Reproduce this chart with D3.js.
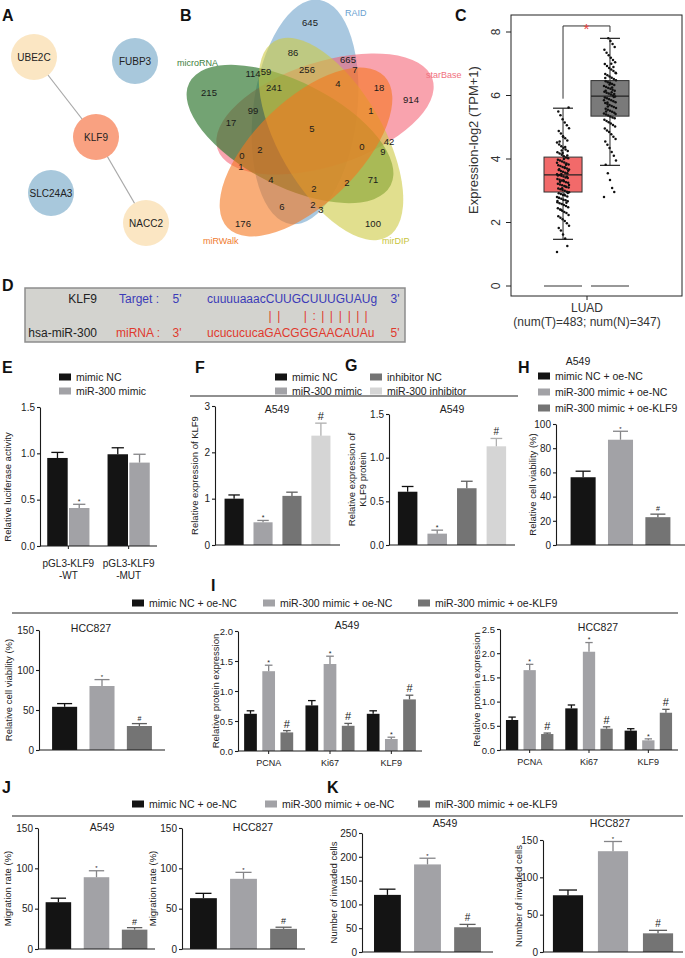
<!DOCTYPE html>
<html lang="en">
<head>
<meta charset="utf-8">
<title>KLF9 / miR-300 figure</title>
<script src="https://cdn.jsdelivr.net/npm/d3@7/dist/d3.min.js"></script>
<style>
  body { margin: 0; background: #fff; }
</style>
</head>
<body>
<svg id="fig" width="685" height="958"></svg>
<script>
// ---------- data ----------
var ppiNodes = ["UBE2C", "FUBP3", "KLF9", "SLC24A3", "NACC2"];
var ppiKind = ["partner", "single", "hub", "single", "partner"];
var ppiLinks = [["UBE2C", "KLF9"], ["KLF9", "NACC2"]];

var vennSets = ["RAID", "starBase", "microRNA", "mirDIP", "miRWalk"];
var vennCounts = [645, 86, 665, 7, 114, 59, 256, 4, 18, 914, 215, 241, 99, 1, 17, 5,
                  42, 0, 9, 2, 0, 1, 4, 71, 2, 2, 6, 2, 3, 176, 100];

var tcgaGroups = ["Tumor", "Normal"];
// whisker low, q1, median, q3, whisker high
var tumorStats = [1.47, 2.96, 3.50, 4.06, 5.60];
var normalStats = [3.80, 5.35, 5.98, 6.47, 7.80];
var tumorPts = [1.07, 1.26, 1.50, 1.62, 1.75, 1.83, 1.90, 1.98, 2.05, 2.10, 2.15, 2.20, 2.24, 2.30,
  2.33, 2.37, 2.41, 2.45, 2.48, 2.52, 2.55, 2.58, 2.61, 2.64, 2.67, 2.70, 2.72, 2.75, 2.77, 2.80,
  2.82, 2.85, 2.87, 2.90, 2.92, 2.95, 2.97, 3.00, 3.02, 3.05, 3.07, 3.10, 3.12, 3.15, 3.17, 3.20,
  3.22, 3.25, 3.27, 3.30, 3.32, 3.35, 3.37, 3.40, 3.42, 3.45, 3.47, 3.50, 3.52, 3.55, 3.57, 3.60,
  3.62, 3.65, 3.67, 3.70, 3.72, 3.75, 3.78, 3.80, 3.83, 3.86, 3.89, 3.92, 3.95, 3.98, 4.02, 4.05,
  4.09, 4.13, 4.17, 4.21, 4.25, 4.30, 4.35, 4.40, 4.46, 4.52, 4.58, 4.65, 4.72, 4.80, 4.88, 4.97,
  5.06, 5.15, 5.25, 5.38, 5.50, 5.62, 2.62, 2.88, 3.08, 3.28, 3.48, 3.63, 3.82, 4.00, 4.27, 4.55,
  2.68, 2.93, 3.13, 3.33, 3.53, 3.68, 3.88, 4.11, 4.38, 4.70, 2.40, 2.78, 3.18, 3.44, 3.74, 4.19];
var normalPts = [2.80, 2.96, 3.09, 3.34, 3.55, 3.82, 3.95, 4.10, 4.22, 4.35, 4.45, 4.55, 4.63, 4.70,
  4.78, 4.85, 4.90, 4.96, 5.02, 5.07, 5.12, 5.16, 5.20, 5.24, 5.28, 5.31, 5.34, 5.37, 5.40, 5.43,
  5.46, 5.49, 5.52, 5.55, 5.58, 5.61, 5.64, 5.67, 5.70, 5.73, 5.76, 5.79, 5.82, 5.85, 5.88, 5.91,
  5.94, 5.97, 6.00, 6.03, 6.06, 6.09, 6.12, 6.15, 6.18, 6.21, 6.24, 6.27, 6.30, 6.33, 6.36, 6.39,
  6.42, 6.45, 6.48, 6.52, 6.56, 6.60, 6.64, 6.68, 6.72, 6.77, 6.82, 6.87, 6.93, 6.99, 7.05, 7.12,
  7.19, 7.27, 7.35, 7.44, 7.53, 7.62, 7.72, 7.80, 5.50, 5.85, 6.05, 6.25, 6.40, 5.65, 6.15, 6.70,
  5.95, 6.10, 6.35, 5.78, 6.55, 5.42, 6.90, 7.00];
var tcgaTicks = [0, 2, 4, 6, 8];

var seqTarget = "cuuuuaaacCUUGCUUUGUAUg";
var seqMirna = "ucucucucaGACGGGAACAUAu";
var seqPairing = "         ||  |:|||||| ";

var lucCats = ["pGL3-KLF9\n-WT", "pGL3-KLF9\n-MUT"];
var lucNC = [0.95, 0.99], lucNCErr = [0.06, 0.07];
var lucMimic = [0.41, 0.90], lucMimicErr = [0.04, 0.09];

var klf9Groups = ["mimic NC", "miR-300 mimic", "inhibitor NC", "miR-300 inhibitor"];
var klf9Mrna = [1.00, 0.49, 1.06, 2.36], klf9MrnaErr = [0.08, 0.04, 0.08, 0.27];
var klf9Prot = [0.61, 0.13, 0.65, 1.13], klf9ProtErr = [0.06, 0.04, 0.08, 0.09];
var klf9Marks = ["", "*", "", "#"];

var oeGroups = ["mimic NC + oe-NC", "miR-300 mimic + oe-NC", "miR-300 mimic + oe-KLF9"];
var oeMarks = ["", "*", "#"];
var viabA549 = [56, 87, 23], viabA549Err = [5, 7, 2.5];
var viabHCC = [54, 80, 30], viabHCCErr = [4, 8, 3];

var proteins = ["PCNA", "Ki67", "KLF9"];
var protA549 = [[0.62, 1.33, 0.31], [0.76, 1.45, 0.42], [0.62, 0.20, 0.86]];
var protA549Err = [[0.05, 0.10, 0.03], [0.08, 0.13, 0.04], [0.05, 0.03, 0.07]];
var protHCC = [[0.62, 1.65, 0.33], [0.86, 2.03, 0.44], [0.40, 0.20, 0.77]];
var protHCCErr = [[0.06, 0.12, 0.02], [0.07, 0.19, 0.04], [0.04, 0.03, 0.07]];

var migA549 = [58, 89, 24], migA549Err = [5, 8, 2.5];
var migHCC = [63, 87, 25], migHCCErr = [6, 8, 2];
var invA549 = [120, 184, 52], invA549Err = [12, 13, 6];
var invHCC = [76, 135, 25], invHCCErr = [7, 13, 4];

// ---------- style ----------
var FONT = '"Liberation Sans", Arial, Helvetica, sans-serif';
var BLACK = "#141414", GRAY = "#a2a2a6", DARK = "#747474", LIGHT = "#d5d5d5";
var svg = d3.select("#fig");

function txt(g, x, y, s, size, o) {
  o = o || {};
  var t = g.append("text").attr("x", x).attr("y", y).text(s)
    .attr("font-size", size).attr("font-family", FONT)
    .attr("fill", o.fill || "#222")
    .attr("text-anchor", o.anchor || "start")
    .attr("dominant-baseline", o.baseline || "central");
  if (o.weight) t.attr("font-weight", o.weight);
  if (o.rotate) t.attr("transform", "rotate(" + o.rotate + "," + x + "," + y + ")");
  return t;
}

// panel letters
[["A", 2, 15], ["B", 180, 15], ["C", 455, 15], ["D", 2, 285], ["E", 2, 367], ["F", 195, 367],
 ["G", 345, 365], ["H", 518, 367], ["I", 211, 585], ["J", 2, 787], ["K", 327, 787]]
  .forEach(function(l) { txt(svg, l[1], l[2], l[0], 16, {weight: "bold", fill: "#111"}); });

// ---------- A: network ----------
var ppiPos = {UBE2C: [34, 57], FUBP3: [135, 61], KLF9: [96, 137], SLC24A3: [51, 193], NACC2: [146, 223]};
var ppiColor = d3.scaleOrdinal().domain(["partner", "single", "hub"]).range(["#fbe6c3", "#a8c8dc", "#f9a181"]);
var gA = svg.append("g");
ppiLinks.forEach(function(l) {
  gA.append("line").attr("x1", ppiPos[l[0]][0]).attr("y1", ppiPos[l[0]][1])
    .attr("x2", ppiPos[l[1]][0]).attr("y2", ppiPos[l[1]][1])
    .attr("stroke", "#a8a8a8").attr("stroke-width", 1.2);
});
ppiNodes.forEach(function(n, i) {
  gA.append("circle").attr("cx", ppiPos[n][0]).attr("cy", ppiPos[n][1]).attr("r", 23)
    .attr("fill", ppiColor(ppiKind[i]));
  txt(gA, ppiPos[n][0], ppiPos[n][1], n, 10, {anchor: "middle", fill: "#222"});
});

// ---------- B: venn ----------
var vennShape = {
  RAID: [305, 112, 113, 52, -83], starBase: [325, 114, 113, 52, -18],
  microRNA: [290, 134, 113, 52, 27], mirDIP: [331, 139, 113, 52, 60], miRWalk: [306, 152, 109, 52, -44]
};
var vennFill = {RAID: ["#629bc7", 0.55], starBase: ["#f4586c", 0.55], microRNA: ["#307730", 0.68],
  mirDIP: ["#cdc943", 0.6], miRWalk: ["#f5761e", 0.6]};
var vennText = {RAID: ["#6a9fd0", 345, 13], starBase: ["#f0707e", 426, 75], microRNA: ["#3d7e3d", 177, 63],
  mirDIP: ["#c8c43a", 382, 241], miRWalk: ["#f07b2d", 203, 241]};
var vennLabelPos = [[310, 22], [293, 52], [348, 59], [355, 69], [253, 73], [266, 71], [307, 69], [338, 83],
  [379, 87], [411, 99], [209, 92], [274, 87], [253, 110], [371, 110], [231, 122], [312, 128], [389, 141],
  [362, 146], [383, 151], [260, 149], [242, 155], [241, 166], [271, 179], [373, 179], [314, 188],
  [347, 182], [282, 206], [313, 204], [321, 209], [243, 223], [373, 223]];
var gB = svg.append("g");
vennSets.forEach(function(s) {
  var e = vennShape[s];
  gB.append("ellipse").attr("cx", e[0]).attr("cy", e[1]).attr("rx", e[2]).attr("ry", e[3])
    .attr("transform", "rotate(" + e[4] + "," + e[0] + "," + e[1] + ")")
    .attr("fill", vennFill[s][0]).attr("fill-opacity", vennFill[s][1]);
});
vennSets.forEach(function(s) {
  txt(gB, vennText[s][1], vennText[s][2], s, 9, {fill: vennText[s][0]});
});
vennCounts.forEach(function(c, i) {
  txt(gB, vennLabelPos[i][0], vennLabelPos[i][1], c, 9.5, {anchor: "middle", fill: "#1a1a1a"});
});

// ---------- C: box plot ----------
var gC = svg.append("g");
var yC = d3.scaleLinear().domain([0, 8]).range([286, 32]);
var xC = d3.scaleBand().domain(tcgaGroups).range([544, 629]).paddingInner(0.19);
gC.append("rect").attr("x", 511).attr("y", 15).attr("width", 171).attr("height", 281)
  .attr("fill", "none").attr("stroke", "#222").attr("stroke-width", 1);
var axC = gC.append("g").attr("transform", "translate(511,0)")
  .call(d3.axisLeft(yC).tickValues(tcgaTicks).tickSize(5).tickSizeOuter(0).tickPadding(3));
axC.select(".domain").remove();
axC.selectAll(".tick").attr("transform", "translate(0,0)");
axC.selectAll(".tick line").attr("stroke", "#222").each(function(d) {
  d3.select(this).attr("y1", yC(d)).attr("y2", yC(d)).attr("x1", 0).attr("x2", -5);
});
axC.selectAll(".tick text").attr("font-family", FONT).attr("font-size", 12).attr("fill", "#333")
  .attr("text-anchor", "middle").attr("x", 0).attr("y", 0).attr("dy", "0.35em")
  .each(function(d) { d3.select(this).attr("transform", "translate(-15," + yC(d) + ") rotate(-90)"); });
txt(gC, 473, 140, "Expression-log2 (TPM+1)", 13, {anchor: "middle", rotate: -90, fill: "#333"});
gC.append("line").attr("x1", 587).attr("x2", 587).attr("y1", 296).attr("y2", 300).attr("stroke", "#222");
txt(gC, 587, 308, "LUAD", 12, {anchor: "middle", fill: "#333"});
txt(gC, 587, 322, "(num(T)=483; num(N)=347)", 12, {anchor: "middle", fill: "#333"});

[[tumorStats, tumorPts, "#f26a6a"], [normalStats, normalPts, "#7a7a7a"]].forEach(function(grp, gi) {
  var st = grp[0], bx = xC(tcgaGroups[gi]), bw = xC.bandwidth(), cx = bx + bw / 2;
  gC.append("line").attr("x1", bx).attr("x2", bx + bw).attr("y1", yC(0)).attr("y2", yC(0))
    .attr("stroke", "#333").attr("stroke-width", 1.2);
  gC.append("line").attr("x1", cx).attr("x2", cx).attr("y1", yC(st[0])).attr("y2", yC(st[4]))
    .attr("stroke", "#222");
  [st[0], st[4]].forEach(function(v) {
    gC.append("line").attr("x1", cx - 10).attr("x2", cx + 10).attr("y1", yC(v)).attr("y2", yC(v))
      .attr("stroke", "#222").attr("stroke-width", 1.2);
  });
  gC.append("rect").attr("x", bx).attr("y", yC(st[3])).attr("width", bw)
    .attr("height", yC(st[1]) - yC(st[3])).attr("fill", grp[2]).attr("stroke", "#333");
  gC.append("line").attr("x1", bx).attr("x2", bx + bw).attr("y1", yC(st[2])).attr("y2", yC(st[2]))
    .attr("stroke", "#222").attr("stroke-width", 1.2);
  grp[1].forEach(function(v, i) {
    var jit = (((i * 53) % 29) / 28 - 0.5) * 12;
    gC.append("circle").attr("cx", cx + jit).attr("cy", yC(v)).attr("r", 1.25).attr("fill", "#111");
  });
});
// significance bracket
var cT = xC("Tumor") + xC.bandwidth() / 2, cN = xC("Normal") + xC.bandwidth() / 2;
gC.append("path").attr("d", "M" + cT + "," + yC(tumorStats[4] + 0.3) + "V" + yC(8.19) + "H" + cN + "V" + yC(normalStats[4] + 0.2))
  .attr("fill", "none").attr("stroke", "#333").attr("stroke-width", 1);
txt(gC, (cT + cN) / 2, yC(8.12), "*", 15, {anchor: "middle", fill: "#e8403c"});

// ---------- D: binding site ----------
var gD = svg.append("g");
gD.append("rect").attr("x", 25).attr("y", 288).attr("width", 380).attr("height", 54)
  .attr("fill", "#d3d3cf").attr("stroke", "#8d8d8d").attr("stroke-width", 1.5);
var BLUE = "#3b3bb8", RED = "#e03a2e";
txt(gD, 97, 299, "KLF9", 12, {anchor: "end"});
txt(gD, 119, 299, "Target :", 12, {fill: BLUE});
txt(gD, 177, 299, "5'", 12, {fill: BLUE, anchor: "middle"});
var tgt = txt(gD, 207, 299, seqTarget, 12, {fill: BLUE});
txt(gD, 395, 299, "3'", 12, {fill: BLUE, anchor: "middle"});
txt(gD, 97, 333, "hsa-miR-300", 12, {anchor: "end"});
txt(gD, 116, 333, "miRNA :", 12, {fill: RED});
txt(gD, 177, 333, "3'", 12, {fill: RED, anchor: "middle"});
txt(gD, 207, 333, seqMirna, 12, {fill: RED});
txt(gD, 395, 333, "5'", 12, {fill: RED, anchor: "middle"});
seqPairing.split("").forEach(function(ch, i) {
  if (ch === " ") return;
  var ext = tgt.node().getExtentOfChar(i);
  txt(gD, ext.x + ext.width / 2, 316, ch, 12, {fill: RED, anchor: "middle"});
});

// ---------- bar chart helper ----------
function barPanel(p) {
  var g = svg.append("g");
  var y = d3.scaleLinear().domain([0, p.max]).range([p.yBot, p.yTop]);
  var nCat = p.values.length, nSer = p.values[0].length;
  var xo = d3.scaleBand().domain(d3.range(nCat)).range([p.x0, p.x1])
    .paddingInner(p.pi || 0).paddingOuter(p.po || 0);
  var xi = d3.scaleBand().domain(d3.range(nSer)).range([0, xo.bandwidth()])
    .paddingInner(p.ipi == null ? 0.33 : p.ipi).paddingOuter(p.ipo == null ? 0.3 : p.ipo);
  p.values.forEach(function(row, i) {
    row.forEach(function(v, j) {
      var bx = xo(i) + xi(j), bw = xi.bandwidth(), cx = bx + bw / 2, col = p.colors[j];
      g.append("rect").attr("x", bx).attr("y", y(v)).attr("width", bw)
        .attr("height", y(0) - y(v)).attr("fill", col);
      var top = y(v + p.errs[i][j]), ec = d3.color(col).darker(0.55).formatHex();
      g.append("line").attr("x1", cx).attr("x2", cx).attr("y1", y(v)).attr("y2", top)
        .attr("stroke", ec).attr("stroke-width", 1.3);
      g.append("line").attr("x1", cx - bw * 0.3).attr("x2", cx + bw * 0.3).attr("y1", top).attr("y2", top)
        .attr("stroke", ec).attr("stroke-width", 1.3);
      var m = p.marks[i][j];
      if (m === "*") {
        txt(g, cx, top - 3 + 0.42 * p.star, "*", p.star, {anchor: "middle", baseline: "alphabetic"});
      } else if (m === "#") {
        txt(g, cx, top - 3, "#", p.hash, {anchor: "middle", baseline: "alphabetic"});
      }
    });
  });
  var ax = g.append("g").attr("transform", "translate(" + p.x0 + ",0)")
    .call(d3.axisLeft(y).tickValues(p.ticks).tickFormat(p.fmt || d3.format("d"))
      .tickSize(3).tickSizeOuter(0).tickPadding(2));
  ax.attr("font-family", FONT).attr("font-size", p.fs || 10);
  ax.selectAll("text").attr("fill", "#222");
  ax.selectAll("line, path").attr("stroke", "#1a1a1a").attr("stroke-width", 1.1);
  g.append("line").attr("x1", p.x0).attr("x2", p.x1).attr("y1", y(0)).attr("y2", y(0))
    .attr("stroke", "#1a1a1a").attr("stroke-width", 1.1);
  if (p.cats) {
    p.cats.forEach(function(c, i) {
      var cx = xo(i) + xo.bandwidth() / 2;
      g.append("line").attr("x1", cx).attr("x2", cx).attr("y1", y(0)).attr("y2", y(0) + 3)
        .attr("stroke", "#1a1a1a");
      c.split("\n").forEach(function(line, k) {
        txt(g, cx, y(0) + p.catDy + k * 12, line, p.catFs || 10, {anchor: "middle"});
      });
    });
  }
  if (p.title) txt(g, p.tx, p.ty, p.title, 10.5, {anchor: "middle"});
  var mid = p.ly || (p.yTop + p.yBot) / 2;
  p.ylabel.forEach(function(line, k) {
    txt(g, p.lx + k * 11, mid, line, p.lfs || 9.5, {anchor: "middle", rotate: -90});
  });
}

function legend(items, colors, xs, ys) {
  items.forEach(function(s, i) {
    svg.append("rect").attr("x", xs[i]).attr("y", ys[i] - 3.5).attr("width", 12).attr("height", 7)
      .attr("fill", colors[i]);
    txt(svg, xs[i] + 17, ys[i], s, 10.5);
  });
}
function rule(x1, x2, yy) {
  svg.append("line").attr("x1", x1).attr("x2", x2).attr("y1", yy).attr("y2", yy)
    .attr("stroke", "#222").attr("stroke-width", 1.2);
}

var three = [BLACK, GRAY, DARK], four = [BLACK, GRAY, DARK, LIGHT];

// ---------- E ----------
legend(["mimic NC", "miR-300 mimic"], [BLACK, GRAY], [59, 59], [377, 391]);
barPanel({x0: 40, x1: 157, yTop: 407, yBot: 546, max: 1.5, ticks: [0, 0.5, 1, 1.5], fmt: d3.format(".1f"),
  values: d3.transpose([lucNC, lucMimic]), errs: d3.transpose([lucNCErr, lucMimicErr]),
  colors: [BLACK, GRAY], marks: [["", "*"], ["", ""]], star: 7, hash: 9,
  pi: 0.3, po: 0.12, ipi: 0.06, ipo: 0, cats: lucCats, catDy: 17,
  ylabel: ["Relative luciferase activity"], lx: 7, ly: 487});

// ---------- F / G ----------
legend(klf9Groups, four, [275, 275, 370, 370], [377, 391, 377, 391]);
rule(190, 518, 396);
barPanel({x0: 215, x1: 340, yTop: 406, yBot: 545, max: 3, ticks: [0, 1, 2, 3],
  values: [klf9Mrna], errs: [klf9MrnaErr], colors: four, marks: [klf9Marks], star: 7, hash: 11,
  ipi: 0.34, ipo: 0.33, title: "A549", tx: 277, ty: 409,
  ylabel: ["Relative expression of KLF9"], lx: 194});
barPanel({x0: 389, x1: 515, yTop: 414, yBot: 545, max: 1.5, ticks: [0, 0.5, 1, 1.5], fmt: d3.format(".1f"),
  values: [klf9Prot], errs: [klf9ProtErr], colors: four, marks: [klf9Marks], star: 7, hash: 10,
  ipi: 0.34, ipo: 0.3, title: "A549", tx: 452, ty: 409,
  ylabel: ["Relative expression of", "KLF9 protein"], lx: 351});

// ---------- H ----------
txt(svg, 578, 361, "A549", 10.5, {anchor: "middle"});
legend(oeGroups, three, [538, 538, 538], [376, 392, 408]);
barPanel({x0: 556, x1: 685, yTop: 424, yBot: 545, max: 100, ticks: [0, 20, 40, 60, 80, 100],
  values: [viabA549], errs: [viabA549Err], colors: three, marks: [oeMarks], star: 6, hash: 7,
  ipi: 0.33, ipo: 0.39, ylabel: ["Relative cell viability (%)"], lx: 532});

// ---------- I ----------
legend(oeGroups, three, [132, 263, 418], [603, 603, 603]);
rule(12, 678, 613);
barPanel({x0: 39, x1: 165, yTop: 630, yBot: 750, max: 150, ticks: [0, 50, 100, 150],
  values: [viabHCC], errs: [viabHCCErr], colors: three, marks: [oeMarks], star: 6, hash: 7,
  ipi: 0.33, ipo: 0.35, title: "HCC827", tx: 91, ty: 628,
  ylabel: ["Relative cell viability (%)"], lx: 8});
barPanel({x0: 238, x1: 422, yTop: 631, yBot: 751, max: 2, ticks: [0, 0.5, 1, 1.5, 2], fmt: d3.format(".1f"),
  values: protA549, errs: protA549Err, colors: three, marks: [oeMarks, oeMarks, oeMarks], star: 7, hash: 11,
  pi: 0.2, po: 0.1, ipi: 0.3, ipo: 0, cats: proteins, catDy: 12, catFs: 9, fs: 9.5,
  title: "A549", tx: 347, ty: 625, ylabel: ["Relative protein expression"], lx: 215});
barPanel({x0: 500, x1: 678, yTop: 629, yBot: 750, max: 2.5, ticks: [0, 0.5, 1, 1.5, 2, 2.5], fmt: d3.format(".1f"),
  values: protHCC, errs: protHCCErr, colors: three, marks: [oeMarks, oeMarks, oeMarks], star: 7, hash: 11,
  pi: 0.2, po: 0.1, ipi: 0.3, ipo: 0, cats: proteins, catDy: 12, catFs: 9, fs: 9.5,
  title: "HCC827", tx: 598, ty: 627, ylabel: ["Relative protein expression"], lx: 476});

// ---------- J / K ----------
legend(oeGroups, three, [132, 265, 418], [804, 804, 804]);
rule(12, 683, 816);
barPanel({x0: 38, x1: 155, yTop: 828, yBot: 949, max: 150, ticks: [0, 50, 100, 150],
  values: [migA549], errs: [migA549Err], colors: three, marks: [oeMarks], star: 6, hash: 9,
  ipi: 0.33, ipo: 0.2, title: "A549", tx: 102, ty: 827, ylabel: ["Migration rate (%)"], lx: 7});
barPanel({x0: 182, x1: 305, yTop: 828, yBot: 949, max: 150, ticks: [0, 50, 100, 150],
  values: [migHCC], errs: [migHCCErr], colors: three, marks: [oeMarks], star: 6, hash: 9,
  ipi: 0.33, ipo: 0.2, title: "HCC827", tx: 253, ty: 827, ylabel: ["Migration rate (%)"], lx: 152});
barPanel({x0: 362, x1: 493, yTop: 833, yBot: 952, max: 250, ticks: [0, 50, 100, 150, 200, 250],
  values: [invA549], errs: [invA549Err], colors: three, marks: [oeMarks], star: 6, hash: 10,
  ipi: 0.33, ipo: 0.3, title: "A549", tx: 445, ty: 823, ylabel: ["Number of invaded cells"], lx: 333});
barPanel({x0: 543, x1: 683, yTop: 840, yBot: 952, max: 150, ticks: [0, 50, 100, 150],
  values: [invHCC], errs: [invHCCErr], colors: three, marks: [oeMarks], star: 6, hash: 10,
  ipi: 0.33, ipo: 0.22, title: "HCC827", tx: 610, ty: 823, ylabel: ["Number of invaded cells"], lx: 518});
</script>
</body>
</html>
